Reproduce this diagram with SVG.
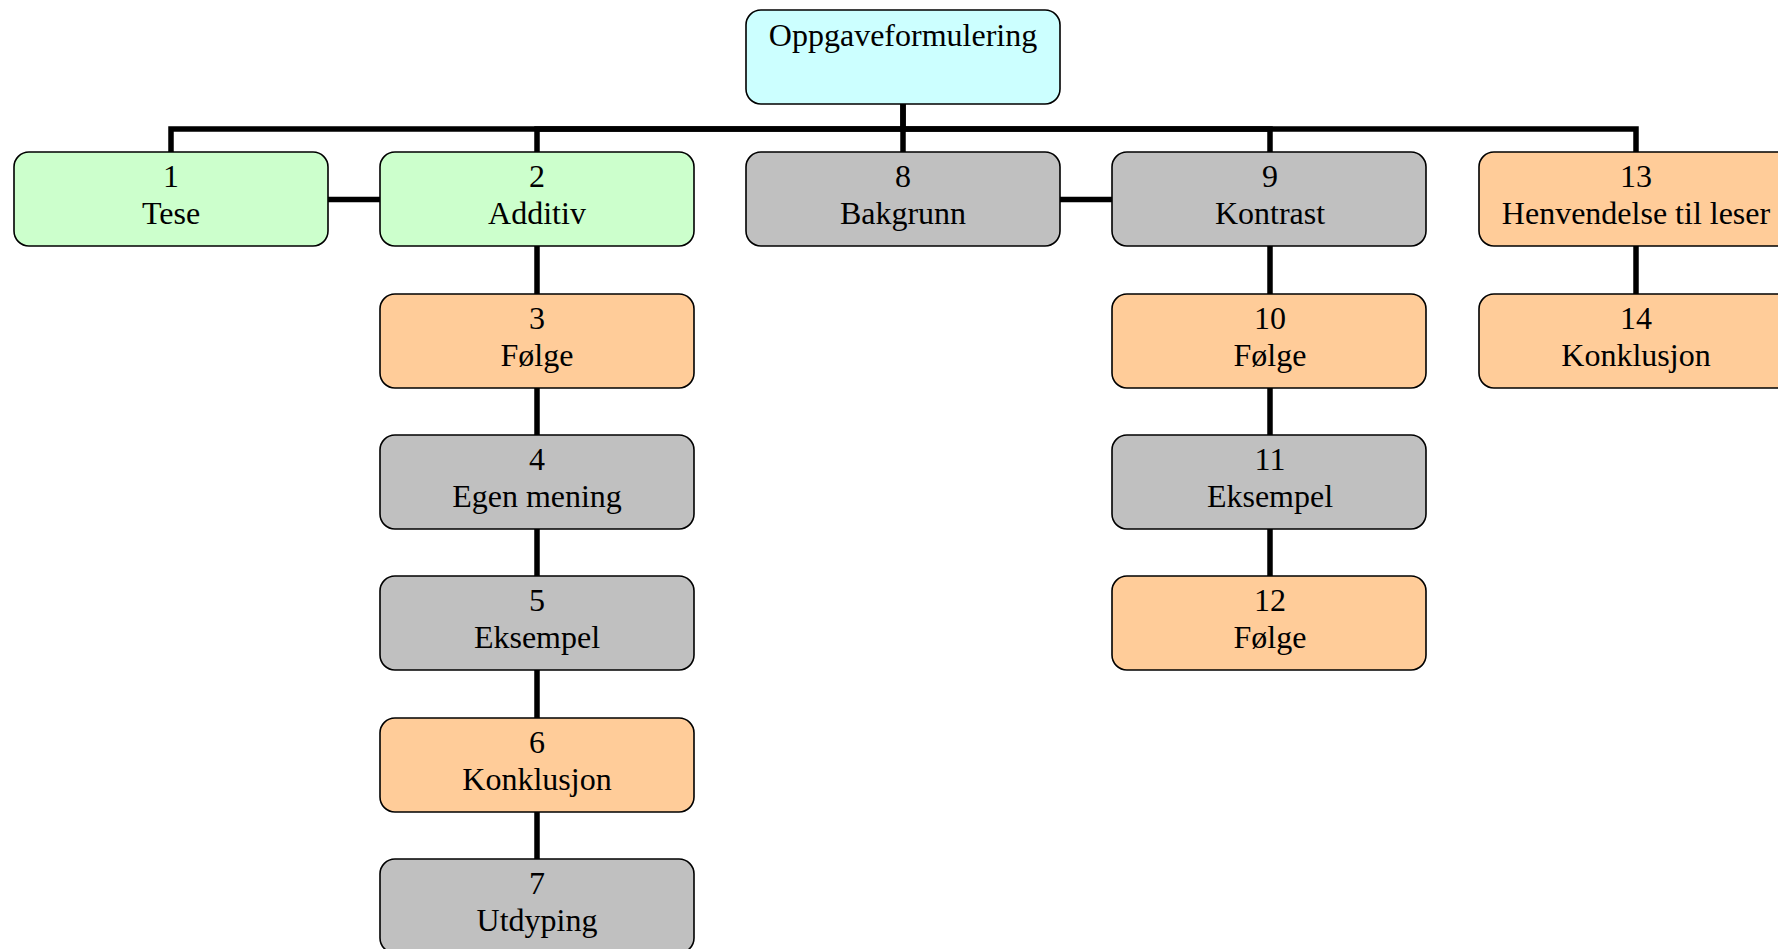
<svg xmlns="http://www.w3.org/2000/svg" width="1778" height="949" viewBox="0 0 1778 949">
<style>
.box{stroke:#000;stroke-width:1.6}
.g{fill:#CCFFCC}.s{fill:#C0C0C0}.o{fill:#FFCC99}.c{fill:#CCFFFF}
text{font-family:"Liberation Serif","Times New Roman",serif;font-size:32px;fill:#000;text-anchor:middle}
.con{fill:none;stroke:#000;stroke-width:5.5}
</style>
<rect width="1778" height="949" fill="#fff"/>
<g id="connectors">
<path class="con" d="M903 104V129H171V152"/>
<path class="con" d="M903 129H537V152"/>
<path class="con" d="M903 104V152"/>
<path class="con" d="M903 129H1270V152"/>
<path class="con" d="M903 129H1636V152"/>
<path class="con" d="M328 199.5H380"/>
<path class="con" d="M1060 199.5H1112"/>
<path class="con" d="M537 246V294M537 388V435M537 529V576M537 670V718M537 812V859"/>
<path class="con" d="M1270 246V294M1270 388V435M1270 529V576"/>
<path class="con" d="M1636 246V294"/>
</g>
<g id="n0"><rect class="box c" x="746" y="10" width="314" height="94" rx="15"/><text x="903" y="46">Oppgaveformulering</text></g>
<g id="n1"><rect class="box g" x="14" y="152" width="314" height="94" rx="15"/><text x="171" y="187">1</text><text x="171" y="224">Tese</text></g>
<g id="n2"><rect class="box g" x="380" y="152" width="314" height="94" rx="15"/><text x="537" y="187">2</text><text x="537" y="224">Additiv</text></g>
<g id="n3"><rect class="box o" x="380" y="294" width="314" height="94" rx="15"/><text x="537" y="329">3</text><text x="537" y="366">Følge</text></g>
<g id="n4"><rect class="box s" x="380" y="435" width="314" height="94" rx="15"/><text x="537" y="470">4</text><text x="537" y="507">Egen mening</text></g>
<g id="n5"><rect class="box s" x="380" y="576" width="314" height="94" rx="15"/><text x="537" y="611">5</text><text x="537" y="648">Eksempel</text></g>
<g id="n6"><rect class="box o" x="380" y="718" width="314" height="94" rx="15"/><text x="537" y="753">6</text><text x="537" y="790">Konklusjon</text></g>
<g id="n7"><rect class="box s" x="380" y="859" width="314" height="94" rx="15"/><text x="537" y="894">7</text><text x="537" y="931">Utdyping</text></g>
<g id="n8"><rect class="box s" x="746" y="152" width="314" height="94" rx="15"/><text x="903" y="187">8</text><text x="903" y="224">Bakgrunn</text></g>
<g id="n9"><rect class="box s" x="1112" y="152" width="314" height="94" rx="15"/><text x="1270" y="187">9</text><text x="1270" y="224">Kontrast</text></g>
<g id="n10"><rect class="box o" x="1112" y="294" width="314" height="94" rx="15"/><text x="1270" y="329">10</text><text x="1270" y="366">Følge</text></g>
<g id="n11"><rect class="box s" x="1112" y="435" width="314" height="94" rx="15"/><text x="1270" y="470">11</text><text x="1270" y="507">Eksempel</text></g>
<g id="n12"><rect class="box o" x="1112" y="576" width="314" height="94" rx="15"/><text x="1270" y="611">12</text><text x="1270" y="648">Følge</text></g>
<g id="n13"><rect class="box o" x="1479" y="152" width="314" height="94" rx="15"/><text x="1636" y="187">13</text><text x="1636" y="224">Henvendelse til leser</text></g>
<g id="n14"><rect class="box o" x="1479" y="294" width="314" height="94" rx="15"/><text x="1636" y="329">14</text><text x="1636" y="366">Konklusjon</text></g>
</svg>
